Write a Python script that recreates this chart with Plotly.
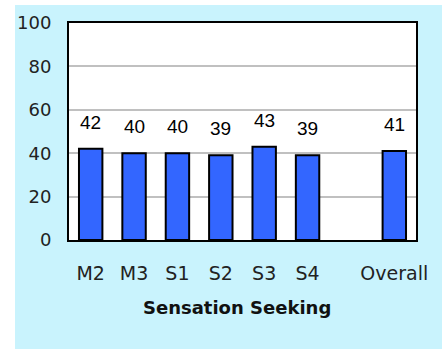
import plotly.graph_objects as go

categories = ["M2", "M3", "S1", "S2", "S3", "S4", "Overall"]
values = [42, 40, 40, 39, 43, 39, 41]
axis_order = ["M2", "M3", "S1", "S2", "S3", "S4", " ", "Overall"]
x_title = "Sensation Seeking"

W, H = 442, 349
L, R, T, B = 69, 26, 23, 109
pw, ph = W - L - R, H - T - B
BG = "#C9F3FD"
FONT = "DejaVu Sans"

fig = go.Figure()
fig.add_trace(go.Bar(
    x=categories, y=values, width=0.54,
    marker=dict(color="#3366FF", line=dict(color="black", width=2)),
    hoverinfo="skip",
))

for c, v in zip(categories, values):
    fig.add_annotation(x=c, y=v, text=str(v), showarrow=False, yanchor="bottom",
                       yshift=14, font=dict(family="Liberation Sans, Arial", size=19, color="black"))

fig.add_annotation(xref="paper", yref="paper", x=(237 - L) / pw, y=(T + ph - 307) / ph,
                   text="<b>%s</b>" % x_title, showarrow=False, xanchor="center", yanchor="middle",
                   font=dict(family=FONT, size=18, color="#111"))

# white strips outside the light-blue panel (panel spans x>=15, y>=5 in pixels)
fig.add_shape(type="rect", xref="paper", yref="paper", layer="above",
              x0=-L / pw - 0.05, x1=(15 - L) / pw, y0=-B / ph - 0.1, y1=(ph + T) / ph + 0.1,
              fillcolor="white", line=dict(width=0))
fig.add_shape(type="rect", xref="paper", yref="paper", layer="above",
              x0=-L / pw - 0.05, x1=(W - L) / pw + 0.1, y0=(ph + T - 5) / ph, y1=(ph + T) / ph + 0.1,
              fillcolor="white", line=dict(width=0))

fig.update_layout(
    width=W, height=H,
    margin=dict(l=L, r=R, t=T, b=B),
    paper_bgcolor=BG, plot_bgcolor="white",
    showlegend=False,
    font=dict(family=FONT, size=18, color="#222"),
    xaxis=dict(type="category", categoryorder="array", categoryarray=axis_order,
               range=[-0.5, 7.5], showgrid=False, showline=True, linecolor="black",
               linewidth=2, mirror=True, ticks="", ticklabelstandoff=15,
               tickfont=dict(family=FONT, size=19, color="#222"), fixedrange=True),
    yaxis=dict(range=[0, 100], dtick=20, showgrid=True, gridcolor="#C0C0C0", gridwidth=2,
               showline=True, linecolor="black", linewidth=2, mirror=True, ticks="",
               ticklabelstandoff=12, zeroline=False,
               tickfont=dict(family=FONT, size=18, color="#222"), fixedrange=True),
)

fig.write_html("out.html", config={"displayModeBar": False},
               post_script="document.body.style.margin='0';")
